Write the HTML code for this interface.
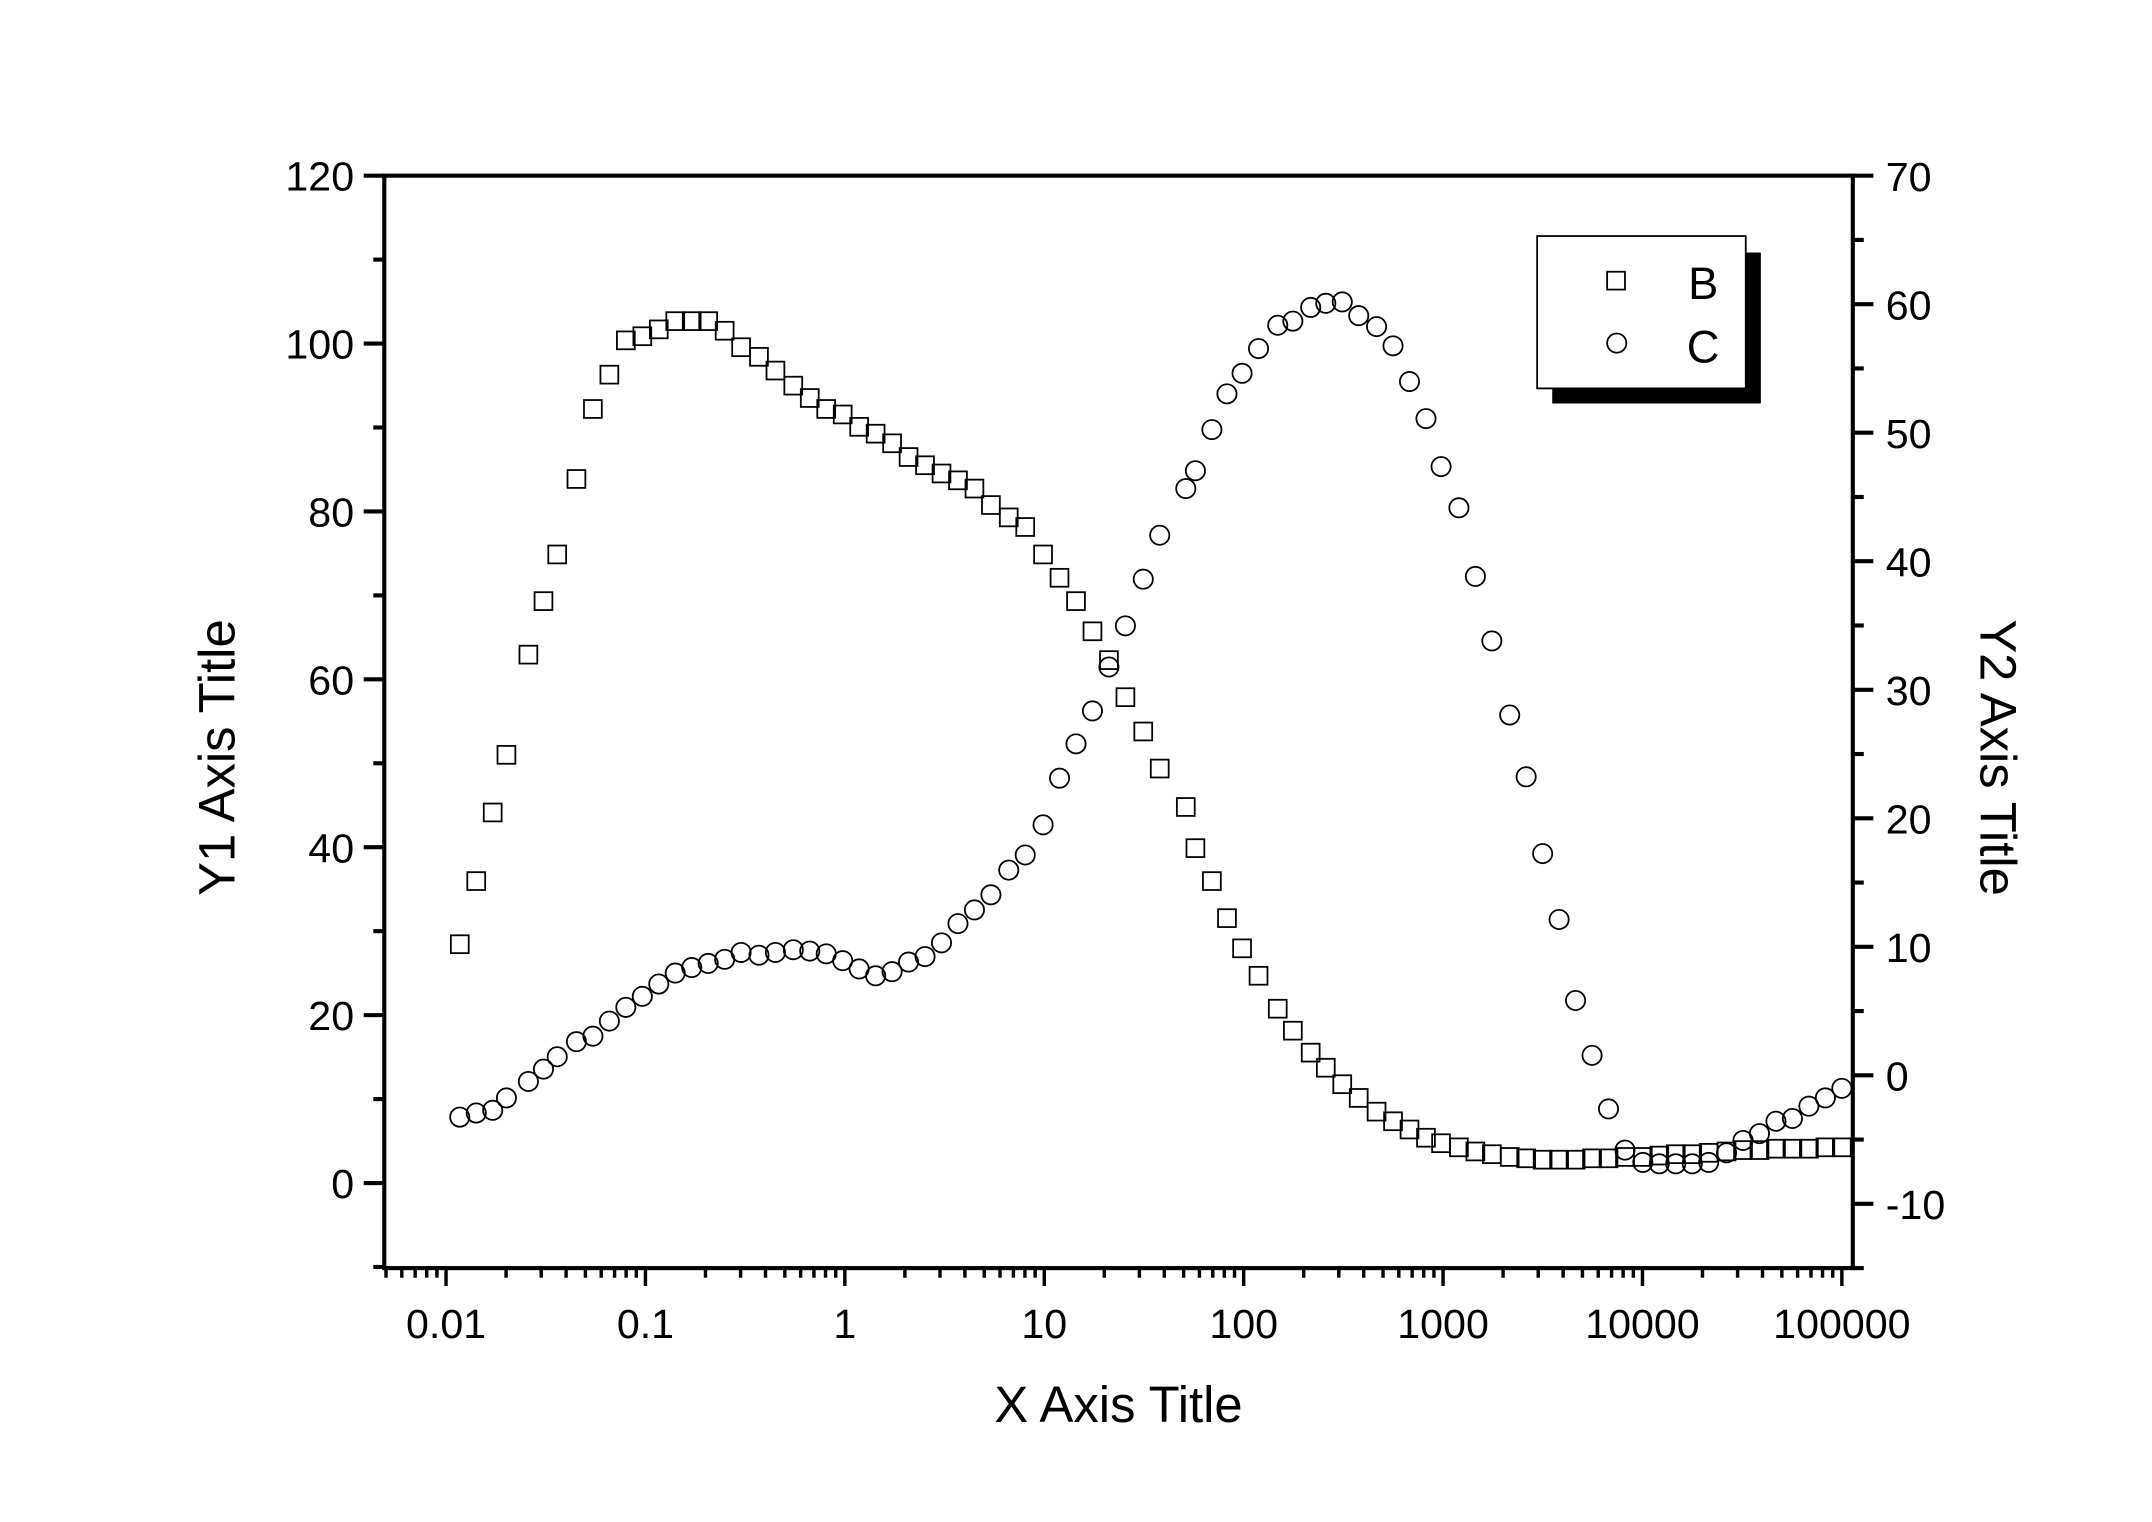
<!DOCTYPE html>
<html><head><meta charset="utf-8"><style>html,body{margin:0;padding:0;background:#fff}svg{display:block}</style></head>
<body>
<svg id="s" xmlns="http://www.w3.org/2000/svg" width="2152" height="1522" viewBox="0 0 1568 1109" preserveAspectRatio="none" font-family="Liberation Sans, Arial, sans-serif">
<rect x="0" y="0" width="1568" height="1109" fill="#fff"/>
<g id="ax" stroke="#000" fill="none"></g>
<g id="pts" stroke="#000" stroke-width="1.3" fill="none"></g>
<g font-size="30" fill="#000" id="lbl"></g>
<text x="815" y="1036" font-size="37" text-anchor="middle">X Axis Title</text>
<text transform="translate(171,552) rotate(-90)" font-size="37" text-anchor="middle">Y1 Axis Title</text>
<text transform="translate(1443,552) rotate(90)" font-size="37" text-anchor="middle">Y2 Axis Title</text>
<rect x="1131" y="184" width="152" height="110" fill="#000"/>
<rect x="1120" y="172" width="152" height="111" fill="#fff" stroke="#000" stroke-width="1.3"/>
<rect x="1171" y="198" width="13" height="13" fill="none" stroke="#000" stroke-width="1.3"/>
<circle cx="1178" cy="250" r="7" fill="none" stroke="#000" stroke-width="1.3"/>
<text x="1230" y="218" font-size="33">B</text>
<text x="1229" y="264" font-size="33">C</text>
</svg>
<script>
var NS="http://www.w3.org/2000/svg";
function el(p,t,a,txt){var e=document.createElementNS(NS,t);for(var k in a)e.setAttribute(k,a[k]);if(txt!==undefined)e.textContent=txt;p.appendChild(e);return e;}
var ax=document.getElementById('ax'),lb=document.getElementById('lbl'),pt=document.getElementById('pts');
var L=280,R=1350,T=128,B=924;
el(ax,'rect',{x:L,y:T,width:R-L,height:B-T,'stroke-width':3});
function y1(v){return 862-(v)*6.1167;}
for(var v=-10;v<=120;v+=10){var y=y1(v);var maj=(v%20==0);el(ax,'line',{x1:L-(maj?15:8),y1:y,x2:L,y2:y,'stroke-width':3});
 if(maj)el(lb,'text',{x:L-22,y:y+11,'text-anchor':'end'},String(v));}
function y2(v){return T+(70-v)*(B-T)/85;}
for(var v=-15;v<=70;v+=5){var y=y2(v);var maj=(v%10==0);el(ax,'line',{x1:R,y1:y,x2:R+(maj?15:8),y2:y,'stroke-width':3});
 if(maj)el(lb,'text',{x:R+24,y:y+11},String(v));}
function xl(l){return 325+(l+2)*145.29;}
var labs=['0.01','0.1','1','10','100','1000','10000','100000'];
for(var d=-3;d<=5;d++){for(var m=1;m<10;m++){var x=xl(d+Math.log10(m));if(x<L-1||x>R+1)continue;var maj=(m==1);
 el(ax,'line',{x1:x,y1:B,x2:x,y2:B+(maj?13:7),'stroke-width':2.5});
 if(maj&&d>=-2)el(lb,'text',{x:x,y:B+51,'text-anchor':'middle'},labs[d+2]);}}
var sq=[[335,688],[347,642],[359,592],[369,550],[385,477],[396,438],[406,404],[420,349],[432,298],[444,273],[456,248],[468,245],[480,240],[492,234],[504,234],[516,234],[528,241],[540,253],[553,260],[565,270],[578,281],[590,290],[602,298],[614,302],[626,311],[638,316],[650,323],[662,333],[674,339],[686,345],[698,350],[710,356],[722,368],[735,377],[747,384],[760,404],[772,421],[784,438],[796,460],[808,481],[820,508],[833,533],[845,560],[864,588],[871,618],[883,642],[894,669],[905,691],[917,711],[931,735],[942,751],[955,767],[966,778],[978,790],[990,800],[1003,810],[1015,817],[1027,823],[1039,829],[1050,833],[1063,836],[1075,839],[1087,841],[1100,843],[1112,844],[1124,845],[1136,845],[1148,845],[1160,844],[1172,844],[1184,843],[1197,843],[1209,842],[1221,841],[1233,841],[1245,840],[1258,839],[1270,838],[1282,838],[1294,837],[1306,837],[1318,837],[1330,836],[1342,836]];
var ci=[[335,814],[347,811],[359,809],[369,800],[385,788],[396,779],[406,770],[420,759],[432,755],[444,744],[456,734],[468,726],[480,717],[492,709],[504,705],[516,702],[528,699],[540,694],[553,696],[565,694],[578,692],[590,693],[602,695],[614,700],[626,706],[638,711],[650,708],[662,701],[674,697],[686,687],[698,673],[710,663],[722,652],[735,634],[747,623],[760,601],[772,567],[784,542],[796,518],[808,486],[820,456],[833,422],[845,390],[864,356],[871,343],[883,313],[894,287],[905,272],[917,254],[931,237],[942,234],[955,224],[966,221],[978,220],[990,230],[1003,238],[1015,252],[1027,278],[1039,305],[1050,340],[1063,370],[1075,420],[1087,467],[1100,521],[1112,566],[1124,622],[1136,670],[1148,729],[1160,769],[1172,808],[1184,838],[1197,847],[1209,848],[1221,848],[1233,848],[1245,847],[1258,840],[1270,831],[1282,826],[1294,817],[1306,815],[1318,806],[1330,800],[1342,793]];
sq.forEach(function(p){el(pt,'rect',{x:p[0]-6.5,y:p[1]-6.5,width:13,height:13});});
ci.forEach(function(p){el(pt,'circle',{cx:p[0],cy:p[1],r:7});});
</script>
</body></html>
